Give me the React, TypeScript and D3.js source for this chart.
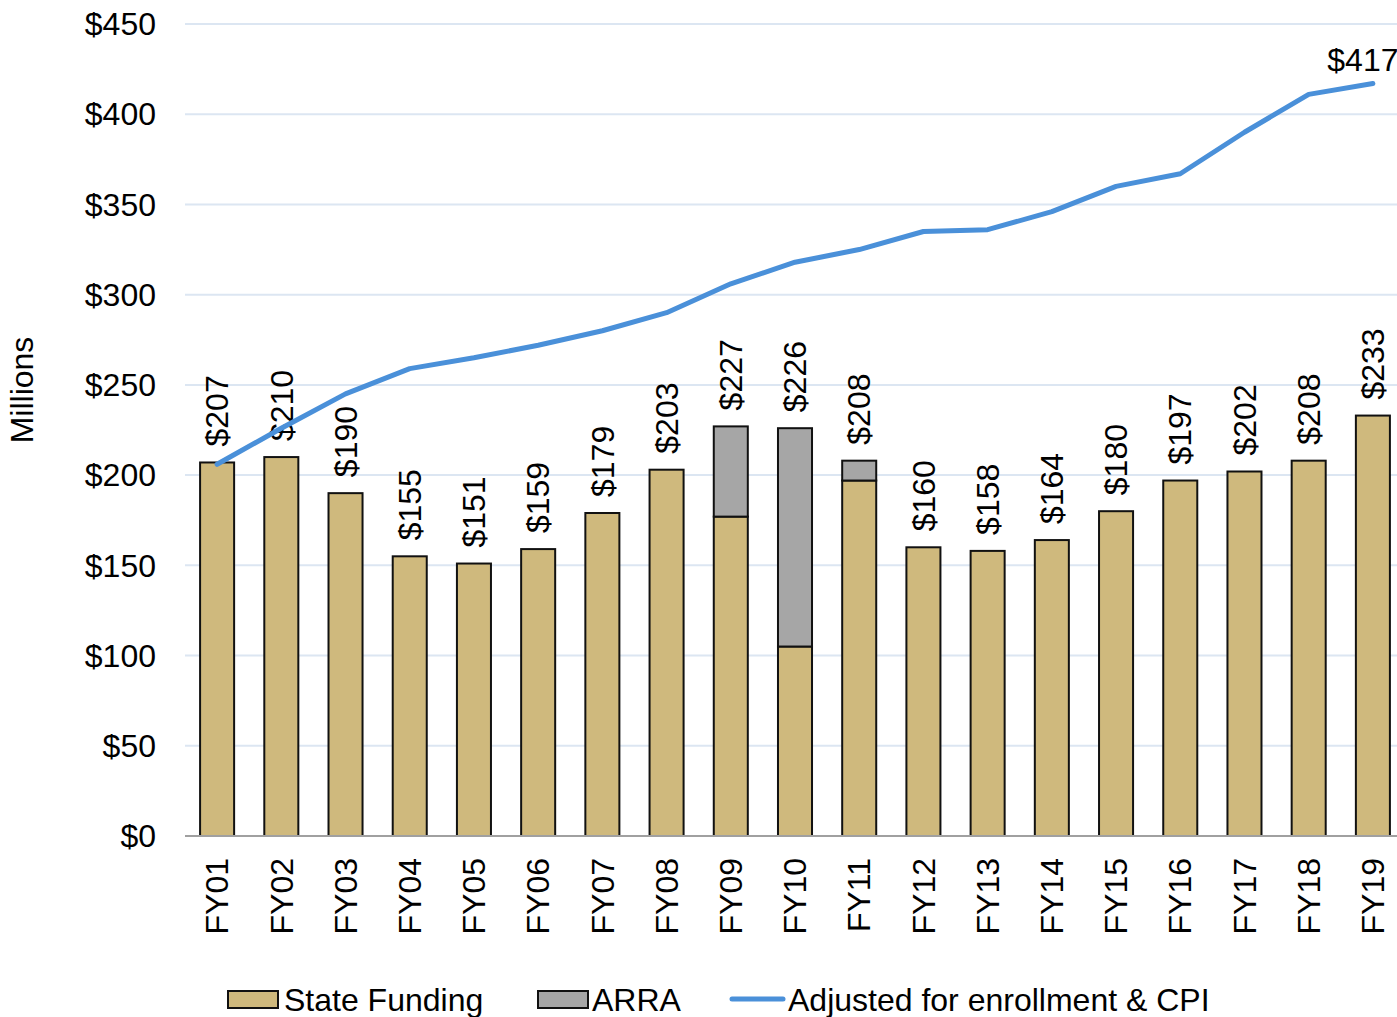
import React from "react";
import * as d3 from "d3";

const categories = ["FY01","FY02","FY03","FY04","FY05","FY06","FY07","FY08","FY09","FY10","FY11","FY12","FY13","FY14","FY15","FY16","FY17","FY18","FY19"];
const stateFunding = [207,210,190,155,151,159,179,203,177,105,197,160,158,164,180,197,202,208,233];
const arra = [0,0,0,0,0,0,0,0,50,121,11,0,0,0,0,0,0,0,0];
const adjusted = [206,226,245,259,265,272,280,290,306,318,325,335,336,346,360,367,390,411,417];
const yTicks = [0,50,100,150,200,250,300,350,400,450];

const W = 1397, H = 1017;
const FONT = "Liberation Sans, Arial, Helvetica, sans-serif";
const FS = 32;

export default function App() {
  const x = d3.scaleBand<string>().domain(categories).range([185, 1405]).paddingInner(0.47).paddingOuter(0.235);
  const y = d3.scaleLinear().domain([0, 450]).range([836, 24]);
  const bw = x.bandwidth();
  const line = d3.line<number>().x((_, i) => (x(categories[i]) as number) + bw / 2).y((d) => y(d));
  const lastX = (x(categories[categories.length - 1]) as number) + bw / 2;
  return (
    <svg width={W} height={H} style={{ position: "absolute", left: 0, top: 0, background: "#fff" }} fontFamily={FONT}>
      {yTicks.map((t) => (
        <g key={t}>
          {t > 0 && <line x1={185} x2={1397} y1={y(t)} y2={y(t)} stroke="#dce6f2" strokeWidth={2} />}
          <text x={156} y={y(t)} dy="0.35em" textAnchor="end" fontSize={FS} fill="#000">{"$" + t}</text>
        </g>
      ))}
      {categories.map((c, i) => {
        const x0 = x(c) as number;
        const total = stateFunding[i] + arra[i];
        return (
          <g key={c}>
            <rect x={x0} y={y(stateFunding[i])} width={bw} height={y(0) - y(stateFunding[i])} fill="#cfb97d" stroke="#111" strokeWidth={2} />
            {arra[i] > 0 && (
              <rect x={x0} y={y(total)} width={bw} height={y(stateFunding[i]) - y(total)} fill="#a6a6a6" stroke="#111" strokeWidth={2} />
            )}
            <text transform={`translate(${x0 + bw / 2},${y(total) - 16}) rotate(-90)`} dy="0.35em" fontSize={FS} fill="#000">{"$" + total}</text>
            <text transform={`translate(${x0 + bw / 2},858) rotate(-90)`} dy="0.35em" textAnchor="end" fontSize={FS} fill="#000">{c}</text>
          </g>
        );
      })}
      <line x1={185} x2={1397} y1={y(0)} y2={y(0)} stroke="#a0a0a0" strokeWidth={2} />
      <path d={line(adjusted) as string} fill="none" stroke="#4a90d9" strokeWidth={5} strokeLinejoin="round" strokeLinecap="round" />
      <text x={lastX - 10} y={y(adjusted[adjusted.length - 1]) - 13} textAnchor="middle" fontSize={FS} fill="#000">{"$" + adjusted[adjusted.length - 1]}</text>
      <text transform={`translate(22,390) rotate(-90)`} dy="0.35em" textAnchor="middle" fontSize={FS} fill="#000">Millions</text>
      <g>
        <rect x={228} y={991} width={50} height={17} fill="#cfb97d" stroke="#111" strokeWidth={2} />
        <text x={284} y={1011} fontSize={FS} fill="#000">State Funding</text>
        <rect x={538} y={991} width={50} height={17} fill="#a6a6a6" stroke="#111" strokeWidth={2} />
        <text x={592} y={1011} fontSize={FS} fill="#000">ARRA</text>
        <line x1={732} x2={783} y1={999} y2={999} stroke="#4a90d9" strokeWidth={5} strokeLinecap="round" />
        <text x={788} y={1011} fontSize={FS} fill="#000">Adjusted for enrollment &amp; CPI</text>
      </g>
    </svg>
  );
}
